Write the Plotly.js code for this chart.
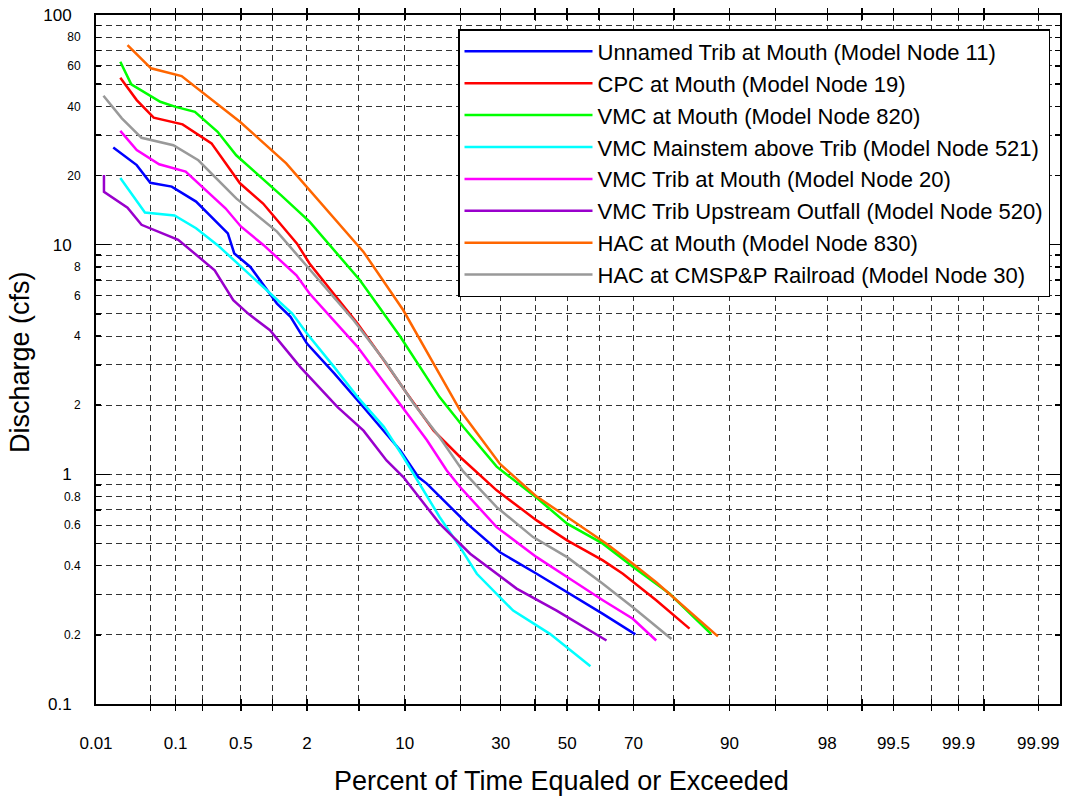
<!DOCTYPE html>
<html>
<head>
<meta charset="utf-8">
<script src="https://cdn.plot.ly/plotly-3.0.1.min.js"></script>
<style>
  html, body { margin: 0; padding: 0; background: #ffffff; }
  #chart { width: 1069px; height: 798px; }
</style>
</head>
<body>
<div id="chart"></div>
<script>
// Flow-duration curves plotted on a normal-probability (probit) percent axis.

const seriesNames = [
  "Unnamed Trib at Mouth (Model Node 11)",
  "CPC at Mouth (Model Node 19)",
  "VMC at Mouth (Model Node 820)",
  "VMC Mainstem above Trib (Model Node 521)",
  "VMC Trib at Mouth (Model Node 20)",
  "VMC Trib Upstream Outfall (Model Node 520)",
  "HAC at Mouth (Model Node 830)",
  "HAC at CMSP&P Railroad (Model Node 30)"
];
const seriesColors = ["#0000ff", "#ff0000", "#00ff00", "#00ffff", "#ff00ff", "#9900cc", "#ff6600", "#999999"];

// percent of time equaled or exceeded / discharge (cfs)
const unnamedPct = [0.017, 0.034, 0.05, 0.09, 0.17, 0.37, 0.43, 0.62, 1.1, 1.45, 2.0, 3.3, 5.4, 9.4, 12, 13.4, 21.5, 29.8, 40.5, 50, 61.1, 70.5];
const unnamedCfs = [26.5, 22.2, 18.6, 17.9, 15.4, 11.2, 9.16, 8.0, 5.54, 4.85, 3.71, 2.75, 1.96, 1.27, 0.973, 0.911, 0.61, 0.458, 0.369, 0.307, 0.247, 0.201];

const cpcPct = [0.021, 0.034, 0.055, 0.12, 0.25, 0.49, 0.82, 1.65, 2.1, 4.9, 7.4, 10.3, 14.6, 19.9, 28.9, 40.5, 50, 61.1, 67, 75.9, 83.3];
const cpcCfs = [53.3, 42.6, 35.7, 33.4, 27.6, 18.5, 15.1, 10.1, 8.28, 4.54, 3.14, 2.25, 1.55, 1.19, 0.852, 0.63, 0.516, 0.422, 0.369, 0.283, 0.213];

const vmcPct = [0.021, 0.029, 0.066, 0.10, 0.165, 0.29, 0.45, 1.2, 2.1, 5.1, 9.4, 15.7, 20.6, 28.9, 40.5, 50, 61.1, 69.8, 79.1, 87.2];
const vmcCfs = [62.6, 49.9, 41.9, 39.8, 37.9, 31.0, 24.5, 16.4, 12.6, 7.0, 3.97, 2.17, 1.61, 1.08, 0.79, 0.61, 0.499, 0.396, 0.302, 0.202];

const mainstemPct = [0.021, 0.043, 0.097, 0.17, 0.29, 0.5, 0.95, 1.5, 2.0, 3.3, 5.0, 7.4, 9.8, 15.7, 19.9, 23.8, 33.5, 44.6, 57.3];
const mainstemCfs = [19.5, 13.8, 13.4, 11.8, 9.95, 8.06, 6.18, 5.01, 4.10, 2.93, 2.14, 1.61, 1.19, 0.652, 0.482, 0.369, 0.255, 0.202, 0.146];

const tribPct = [0.021, 0.034, 0.064, 0.13, 0.35, 0.5, 0.83, 1.63, 2.1, 3.0, 4.9, 6.7, 9.8, 13.4, 17.1, 19.9, 28.9, 40.5, 50, 61.1, 69.8, 75.9];
const tribCfs = [31.3, 25.8, 22.4, 20.8, 14.4, 12.0, 9.95, 7.36, 6.13, 4.93, 3.59, 2.75, 1.93, 1.41, 1.04, 0.881, 0.589, 0.436, 0.357, 0.283, 0.235, 0.189];

const outfallPct = [0.0128, 0.0128, 0.026, 0.039, 0.107, 0.17, 0.27, 0.42, 0.59, 0.95, 1.76, 3.5, 5.4, 7.7, 9.8, 15.7, 22.2, 34.5, 46.7, 62.2];
const outfallCfs = [20.1, 17.0, 14.5, 12.2, 10.5, 9.0, 7.74, 5.73, 5.01, 4.24, 2.93, 1.96, 1.55, 1.15, 0.973, 0.61, 0.451, 0.318, 0.255, 0.189];

const hacMouthPct = [0.026, 0.051, 0.117, 0.49, 1.33, 2.9, 5.4, 9.8, 14.6, 19.9, 29.8, 40.5, 50, 62.2, 69.8, 75.9, 88.3];
const hacMouthCfs = [74.0, 58.6, 54.2, 34.3, 22.6, 14.1, 9.30, 5.18, 3.04, 1.90, 1.11, 0.80, 0.652, 0.499, 0.408, 0.339, 0.197];

const railroadPct = [0.0126, 0.022, 0.039, 0.094, 0.18, 0.28, 0.45, 1.1, 2.05, 4.6, 7.7, 11.3, 15.7, 20.6, 28.9, 39.4, 50, 61.1, 69.8, 79.5];
const railroadCfs = [44.5, 35.5, 29.2, 27.1, 23.3, 19.4, 15.9, 11.4, 7.94, 4.69, 3.04, 2.03, 1.45, 1.03, 0.72, 0.533, 0.436, 0.334, 0.264, 0.192];

const seriesPct = [unnamedPct, cpcPct, vmcPct, mainstemPct, tribPct, outfallPct, hacMouthPct, railroadPct];
const seriesCfs = [unnamedCfs, cpcCfs, vmcCfs, mainstemCfs, tribCfs, outfallCfs, hacMouthCfs, railroadCfs];

// probability-axis grid and labels (percent)
const xGridPct = [0.01, 0.05, 0.1, 0.2, 0.5, 1, 2, 5, 10, 20, 30, 40, 50, 60, 70, 80, 90, 95, 98, 99, 99.5, 99.8, 99.9, 99.95, 99.99];
const xLabelPct = [0.01, 0.1, 0.5, 2, 10, 30, 50, 70, 90, 98, 99.5, 99.9, 99.99];
const xRangePct = [0.01, 99.995];

// log discharge axis
const yDecadeTicks = [0.1, 1, 10, 100];
const yDecadeLabels = ["0.1", "1", "10", "100"];
const yMinorTicks = [0.2, 0.3, 0.4, 0.5, 0.6, 0.7, 0.8, 0.9, 1, 2, 3, 4, 5, 6, 7, 8, 9, 10, 20, 30, 40, 50, 60, 70, 80, 90];
const yMinorLabels = ["0.2", "", "0.4", "", "0.6", "", "0.8", "", "", "2", "", "4", "", "6", "", "8", "", "", "20", "", "40", "", "60", "", "80", ""];

// inverse standard normal CDF (Acklam's rational approximation)
function probit(p) {
  const a = [-3.969683028665376e+01, 2.209460984245205e+02, -2.759285104469687e+02, 1.383577518672690e+02, -3.066479806614716e+01, 2.506628277459239e+00];
  const b = [-5.447609879822406e+01, 1.615858368580409e+02, -1.556989798598866e+02, 6.680131188771972e+01, -1.328068155288572e+01];
  const c = [-7.784894002430293e-03, -3.223964580411365e-01, -2.400758277161838e+00, -2.549732539343734e+00, 4.374664141464968e+00, 2.938163982698783e+00];
  const d = [7.784695709041462e-03, 3.224671290700398e-01, 2.445134137142996e+00, 3.754408661907416e+00];
  const pLow = 0.02425, pHigh = 1 - pLow;
  let q, r;
  if (p < pLow) {
    q = Math.sqrt(-2 * Math.log(p));
    return (((((c[0]*q+c[1])*q+c[2])*q+c[3])*q+c[4])*q+c[5]) / ((((d[0]*q+d[1])*q+d[2])*q+d[3])*q+1);
  }
  if (p <= pHigh) {
    q = p - 0.5; r = q * q;
    return (((((a[0]*r+a[1])*r+a[2])*r+a[3])*r+a[4])*r+a[5])*q / (((((b[0]*r+b[1])*r+b[2])*r+b[3])*r+b[4])*r+1);
  }
  q = Math.sqrt(-2 * Math.log(1 - p));
  return -(((((c[0]*q+c[1])*q+c[2])*q+c[3])*q+c[4])*q+c[5]) / ((((d[0]*q+d[1])*q+d[2])*q+d[3])*q+1);
}
const toProb = pct => probit(pct / 100);

const FONT = "Liberation Sans, Arial, Helvetica, sans-serif";

const traces = seriesNames.map((name, i) => ({
  type: "scatter",
  mode: "lines",
  name: name,
  legendgroup: "g" + i,
  x: seriesPct[i].map(toProb),
  y: seriesCfs[i],
  yaxis: i === seriesNames.length - 1 ? "y2" : "y",
  line: { color: seriesColors[i], width: 2.5 },
  hoverinfo: "skip"
}));

const gridStyle = { gridcolor: "#333333", gridwidth: 1, griddash: "6px,4px" };

const layout = {
  width: 1069,
  height: 798,
  margin: { l: 96, r: 9, t: 15, b: 94, pad: 0 },
  paper_bgcolor: "#ffffff",
  plot_bgcolor: "#ffffff",
  font: { family: FONT, color: "#000000" },
  showlegend: true,
  legend: {
    x: (458 - 96) / 964, y: 1 - (29 - 15) / 689, xanchor: "left", yanchor: "top",
    bgcolor: "#ffffff", bordercolor: "#000000", borderwidth: 1.5,
    font: { family: FONT, size: 22, color: "#000000" },
    itemwidth: 128, tracegroupgap: 0.3, traceorder: "grouped"
  },
  xaxis: Object.assign({
    range: xRangePct.map(toProb),
    tickmode: "array",
    tickvals: xGridPct.map(toProb),
    ticktext: xGridPct.map(p => xLabelPct.includes(p) ? String(p) : ""),
    ticks: "inside", ticklen: 5, tickwidth: 1.5, tickcolor: "#000000",
    showline: true, linecolor: "#000000", linewidth: 2, mirror: "allticks",
    zeroline: false, showgrid: true,
    tickfont: { family: FONT, size: 17 },
    ticklabelstandoff: 23
  }, gridStyle),
  yaxis: Object.assign({
    type: "log", range: [-1, 2],
    tickmode: "array", tickvals: yMinorTicks, ticktext: yMinorLabels,
    ticks: "inside", ticklen: 5, tickwidth: 1.5, tickcolor: "#000000",
    showline: true, linecolor: "#000000", linewidth: 2, mirror: "allticks",
    zeroline: false, showgrid: true,
    tickfont: { family: FONT, size: 12 },
    ticklabelstandoff: 11
  }, gridStyle),
  yaxis2: {
    type: "log", range: [-1, 2], overlaying: "y", side: "left",
    tickmode: "array", tickvals: yDecadeTicks, ticktext: yDecadeLabels,
    ticks: "inside", ticklen: 14, tickwidth: 1.5, tickcolor: "#000000",
    showline: true, linecolor: "#000000", linewidth: 2, mirror: "allticks",
    zeroline: false, showgrid: false,
    tickfont: { family: FONT, size: 17 },
    ticklabelstandoff: 19
  },
  annotations: [
    {
      text: "Discharge (cfs)", xref: "paper", yref: "paper",
      x: (20 - 96) / 964, y: 1 - (362 - 15) / 689, textangle: -90,
      showarrow: false, xanchor: "center", yanchor: "middle",
      font: { family: FONT, size: 27, color: "#000000" }
    },
    {
      text: "Percent of Time Equaled or Exceeded", xref: "paper", yref: "paper",
      x: (561 - 96) / 964, y: 1 - (781 - 15) / 689,
      showarrow: false, xanchor: "center", yanchor: "middle",
      font: { family: FONT, size: 27, color: "#000000" }
    }
  ],
  hovermode: false
};

Plotly.newPlot("chart", traces, layout, { displayModeBar: false, staticPlot: true });
</script>
</body>
</html>
